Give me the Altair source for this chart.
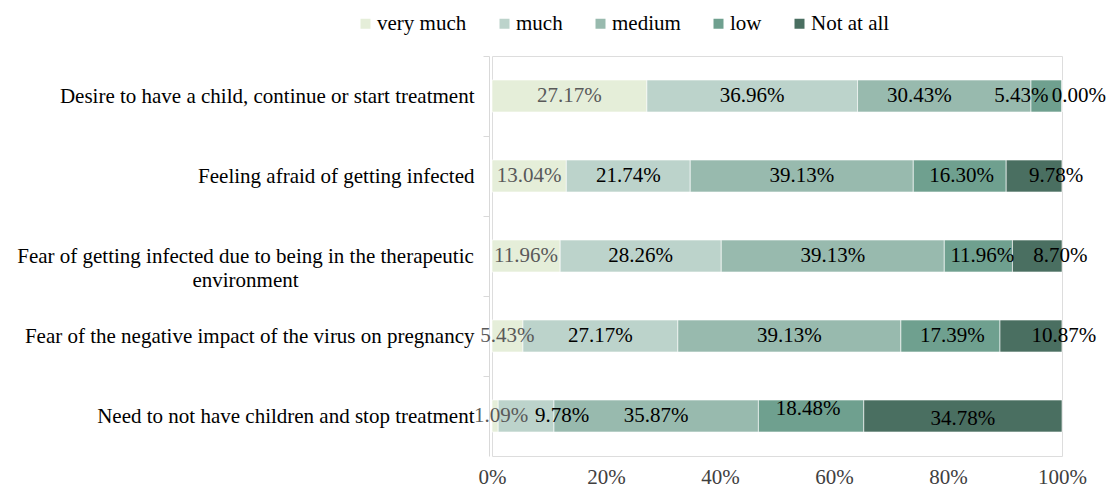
import altair as alt
import pandas as pd

questions = [
    "Desire to have a child, continue or start treatment",
    "Feeling afraid of getting infected",
    "Fear of getting infected due to being in the therapeutic|environment",
    "Fear of the negative impact of the virus on pregnancy",
    "Need to not have children and stop treatment",
]
levels = ["very much", "much", "medium", "low", "Not at all"]
colors = ["#E5EED9", "#BCD3CB", "#98BAAE", "#6FA08F", "#4A6F61"]

very_much = [27.17, 13.04, 11.96, 5.43, 1.09]
much = [36.96, 21.74, 28.26, 27.17, 9.78]
medium = [30.43, 39.13, 39.13, 39.13, 35.87]
low = [5.43, 16.30, 11.96, 17.39, 18.48]
not_at_all = [0.00, 9.78, 8.70, 10.87, 34.78]

# label nudges (pixels) as placed in the original chart
label_dx = [
    [0, 0, -25, -25, 17],
    [0, 0, 0, 2, 22],
    [0, 0, 0, 4, 23],
    [0, 0, 0, 2, 33],
    [6, 36, 0, -3, 0],
]
label_dy = [
    [0, 0, 0, 0, 0],
    [0, 0, 0, 0, 0],
    [0, 0, 0, 0, 0],
    [0, 0, 0, 0, 0],
    [0, 0, 0, -7, 3],
]

series = [very_much, much, medium, low, not_at_all]
rows = []
for qi, q in enumerate(questions):
    for li, lev in enumerate(levels):
        v = series[li][qi]
        rows.append({
            "question": q,
            "level": lev,
            "order": li,
            "value": v,
            "label": f"{v:.2f}%",
            "dx": label_dx[qi][li],
            "dy": label_dy[qi][li],
            "tcolor": "#595959" if li == 0 else "#000000",
        })
df = pd.DataFrame(rows)

FONT = "Liberation Serif"
FS = 21

base = alt.Chart(df).transform_stack(
    stack="value", groupby=["question"], sort=[alt.SortField("order")], as_=["x0", "x1"]
).transform_calculate(mid="(datum.x0 + datum.x1) / 2")

is_multi = "indexof(datum.label, '|') >= 0"

y_enc = alt.Y(
    "question:N",
    sort=questions,
    title=None,
    scale=alt.Scale(paddingInner=0.6, paddingOuter=0.3),
    axis=alt.Axis(
        labelExpr="split(datum.label, '|')",
        labelFont=FONT,
        labelFontSize=FS,
        labelColor="#000000",
        labelLineHeight=24,
        labelLimit=600,
        labelAlign={"condition": {"test": is_multi, "value": "center"}, "value": "right"},
        labelPadding={"condition": {"test": is_multi, "value": 238}, "value": 9},
        labelOffset=24,
        domainColor="#D9D9D9",
        tickColor="#D9D9D9",
        tickSize=6,
        bandPosition=0,
        tickOffset=-24,
        offset=3,
    ),
)

bars = base.mark_bar(stroke="white", strokeWidth=0.6).encode(
    x=alt.X(
        "x0:Q",
        scale=alt.Scale(domain=[0, 100], nice=False),
        title=None,
        axis=alt.Axis(
            values=[0, 20, 40, 60, 80, 100],
            labelExpr="datum.value + '%'",
            labelFont=FONT,
            labelFontSize=FS,
            labelColor="#404040",
            labelPadding=10,
            labelFlush=False,
            domain=False,
            ticks=False,
            grid=False,
        ),
    ),
    x2="x1:Q",
    y=y_enc,
    color=alt.Color(
        "level:N",
        sort=levels,
        scale=alt.Scale(domain=levels, range=colors),
        legend=alt.Legend(
            title=None,
            orient="none",
            direction="horizontal",
            legendX=-137,
            legendY=-43,
            symbolType="square",
            symbolSize=100,
            symbolStrokeWidth=0,
            labelFont=FONT,
            labelFontSize=FS,
            labelColor="#000000",
            labelOffset=1,
            columnPadding=27,
        ),
    ),
    order=alt.Order("order:Q"),
)

texts = base.mark_text(
    font=FONT, fontSize=FS, baseline="middle", align="center",
    dx=alt.ExprRef(expr="datum.dx"), dy=alt.ExprRef(expr="datum.dy"),
).encode(
    x=alt.X("mid:Q"),
    y=alt.Y("question:N", sort=questions),
    text="label:N",
    color=alt.Color("tcolor:N", scale=None),
)

chart = alt.layer(bars, texts).properties(
    width=570,
    height=400,
    padding={"left": 484, "top": 48, "right": 45, "bottom": 33},
    autosize=alt.AutoSizeParams(type="none"),
).configure_view(stroke=None).configure(background="white", font=FONT)

chart.save("out.html", embed_options={"renderer": "svg", "actions": False})
